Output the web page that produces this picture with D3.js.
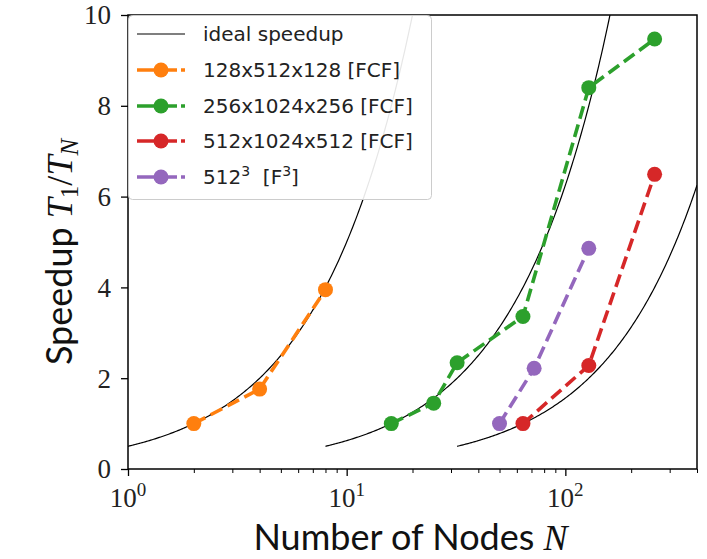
<!DOCTYPE html>
<html><head><meta charset="utf-8">
<script src="https://cdn.jsdelivr.net/npm/d3@7"></script>
<style>
body{margin:0;background:#fff;}
svg{display:block;}
</style></head>
<body>
<svg id="chart" width="707" height="559"></svg>
<script>
// ---- data ----
const seriesNames = ["128x512x128 [FCF]", "256x1024x256 [FCF]", "512x1024x512 [FCF]", "512^3  [F^3]"];
const seriesColors = ["#ff7f0e", "#2ca02c", "#d62728", "#9467bd"];
const nodes128 = [2, 4, 8];
const speed128 = [1.0, 1.76, 3.95];
const nodes256 = [16, 25, 32, 64, 128, 256];
const speed256 = [1.0, 1.45, 2.34, 3.36, 8.4, 9.47];
const nodes512 = [64, 128, 256];
const speed512 = [1.0, 2.28, 6.49];
const nodesCube = [50, 72, 128];
const speedCube = [1.0, 2.22, 4.86];
// ideal speedup: S = N / Nref, drawn over [Nstart, Nend]
const idealRef = [2, 16, 64];
const idealStart = [1, 8, 32];
const idealEnd = [20, 160, 400];
const yTicks = [0, 2, 4, 6, 8, 10];
const xTickExp = [0, 1, 2];

const series = [
  {x: nodes128, y: speed128},
  {x: nodes256, y: speed256},
  {x: nodes512, y: speed512},
  {x: nodesCube, y: speedCube}
];

// ---- layout ----
const svg = d3.select("#chart");
const L = 128, R = 697, T = 15, B = 469;
const x = d3.scaleLog().domain([1, 400]).range([L, R]);
const y = d3.scaleLinear().domain([0, 10]).range([B, T]);
const serif = "'Liberation Serif', 'DejaVu Serif', serif";
const sans = "Lato, 'Open Sans', sans-serif";
const legSans = "'DejaVu Sans', sans-serif";

svg.append("defs").append("clipPath").attr("id", "clip")
  .append("rect").attr("x", L).attr("y", T).attr("width", R - L).attr("height", B - T);

const plot = svg.append("g").attr("clip-path", "url(#clip)");

// ideal lines
const lineGen = d3.line().x(d => x(d[0])).y(d => y(d[1]));
idealRef.forEach((ref, i) => {
  const lo = Math.log10(idealStart[i]), hi = Math.log10(idealEnd[i]);
  const pts = d3.range(0, 201).map(k => {
    const n = Math.pow(10, lo + (hi - lo) * k / 200);
    return [n, n / ref];
  });
  plot.append("path").attr("d", lineGen(pts))
    .attr("fill", "none").attr("stroke", "#000").attr("stroke-width", 1.2);
});

// data series
series.forEach((s, i) => {
  const pts = s.x.map((v, k) => [v, s.y[k]]);
  plot.append("path").attr("d", lineGen(pts))
    .attr("fill", "none").attr("stroke", seriesColors[i])
    .attr("stroke-width", 3.6).attr("stroke-dasharray", "13,6");
  plot.selectAll(null).data(pts).enter().append("circle")
    .attr("cx", d => x(d[0])).attr("cy", d => y(d[1])).attr("r", 7.5)
    .attr("fill", seriesColors[i]);
});

// axes
const xAxis = d3.axisBottom(x).tickSizeOuter(0).tickValues(
  d3.range(0, 3).flatMap(e => d3.range(1, 10).map(m => m * Math.pow(10, e))).filter(v => v <= 400)
).tickFormat("").tickSizeInner(0);
const gx = svg.append("g").attr("transform", `translate(0,${B})`).call(xAxis);
gx.select(".domain").remove();
gx.selectAll(".tick").each(function(d) {
  const major = Math.abs(Math.log10(d) - Math.round(Math.log10(d))) < 1e-9;
  d3.select(this).select("line").attr("y2", major ? 7 : 4).attr("stroke", "#000").attr("stroke-width", major ? 1.3 : 1.0);
});
xTickExp.forEach(e => {
  const t = svg.append("text").attr("x", x(Math.pow(10, e))).attr("y", 507)
    .attr("text-anchor", "middle").attr("font-family", serif).attr("font-size", 27).attr("fill", "#222");
  t.append("tspan").text("10");
  t.append("tspan").attr("dy", -11).attr("font-size", 19).text(String(e));
});

const yAxis = d3.axisLeft(y).tickValues(yTicks).tickSizeInner(7).tickSizeOuter(0).tickFormat("");
const gy = svg.append("g").attr("transform", `translate(${L},0)`).call(yAxis);
gy.select(".domain").remove();
gy.selectAll(".tick line").attr("stroke", "#000").attr("stroke-width", 1.3);
yTicks.forEach(v => {
  svg.append("text").attr("x", 111).attr("y", y(v)).attr("dy", "0.35em")
    .attr("text-anchor", "end").attr("font-family", serif).attr("font-size", 27).attr("fill", "#222").text(v);
});

// frame
svg.append("rect").attr("x", L).attr("y", T).attr("width", R - L).attr("height", B - T)
  .attr("fill", "none").attr("stroke", "#000").attr("stroke-width", 1.5);

// axis labels
const xl = svg.append("text").attr("x", (L + R) / 2 - 2).attr("y", 550).attr("text-anchor", "middle")
  .attr("font-family", sans).attr("font-size", 36).attr("fill", "#111");
xl.append("tspan").text("Number of Nodes ");
xl.append("tspan").attr("font-family", serif).attr("font-style", "italic").text("N");

const yl = svg.append("text").attr("transform", `translate(72,${(T + B) / 2 + 10}) rotate(-90)`)
  .attr("text-anchor", "middle").attr("font-family", sans).attr("font-size", 36).attr("fill", "#111");
yl.append("tspan").text("Speedup ");
yl.append("tspan").attr("font-family", serif).attr("font-style", "italic").text("T");
yl.append("tspan").attr("font-family", serif).attr("font-size", 25).attr("dy", 6).text("1");
yl.append("tspan").attr("font-family", serif).attr("dy", -6).text("/");
yl.append("tspan").attr("font-family", serif).attr("font-style", "italic").text("T");
yl.append("tspan").attr("font-family", serif).attr("font-style", "italic").attr("font-size", 25).attr("dy", 6).text("N");

// legend
const lg = svg.append("g");
lg.append("rect").attr("x", 128.5).attr("y", 15.5).attr("width", 303).attr("height", 184).attr("rx", 4)
  .attr("fill", "#fff").attr("fill-opacity", 0.9).attr("stroke", "#ccc").attr("stroke-width", 1);
const rowY = [34, 70, 106, 141, 177];
const legFont = 20;
lg.append("line").attr("x1", 137).attr("x2", 185).attr("y1", rowY[0]).attr("y2", rowY[0])
  .attr("stroke", "#000").attr("stroke-width", 1.2);
lg.append("text").attr("x", 203).attr("y", rowY[0]).attr("dy", "0.35em")
  .attr("font-family", legSans).attr("font-size", legFont).attr("fill", "#222").text("ideal speedup");
seriesNames.forEach((name, i) => {
  const yy = rowY[i + 1];
  lg.append("line").attr("x1", 137).attr("x2", 185).attr("y1", yy).attr("y2", yy)
    .attr("stroke", seriesColors[i]).attr("stroke-width", 3.6).attr("stroke-dasharray", "40,4");
  lg.append("circle").attr("cx", 161).attr("cy", yy).attr("r", 7.5).attr("fill", seriesColors[i]);
  const t = lg.append("text").attr("x", 203).attr("y", yy + 7)
    .attr("font-family", legSans).attr("font-size", legFont).attr("fill", "#222")
    .attr("xml:space", "preserve").style("white-space", "pre");
  const parts = name.split(/(\^\d)/);
  let pendingDy = 0;
  parts.forEach(p => {
    if (p.startsWith("^")) {
      t.append("tspan").attr("dy", -8).attr("font-size", legFont * 0.7).text(p.slice(1));
      pendingDy = 8;
    } else if (p.length) {
      t.append("tspan").attr("dy", pendingDy).text(p);
      pendingDy = 0;
    }
  });
});
</script>
</body></html>
